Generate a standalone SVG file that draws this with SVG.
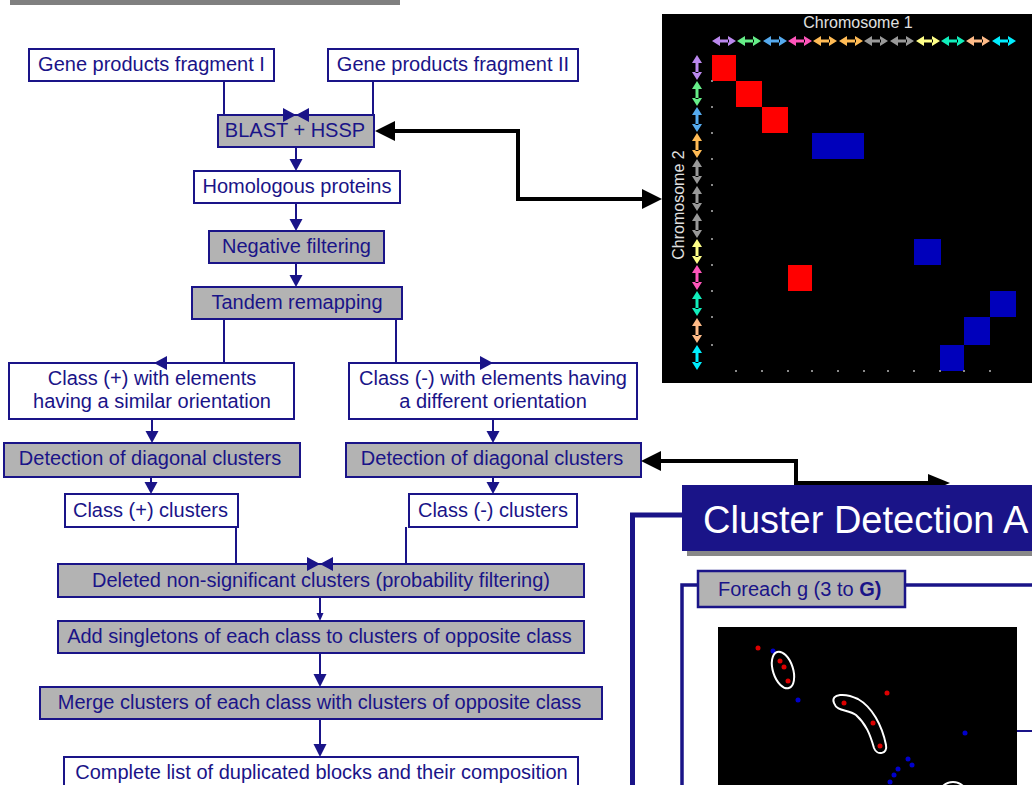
<svg xmlns="http://www.w3.org/2000/svg" xmlns:xlink="http://www.w3.org/1999/xlink" width="1032" height="785" viewBox="0 0 1032 785">
<style>
.box{stroke:#1a1488;stroke-width:2;fill:#fff}
.gr{fill:#b3b3b3}
.t{font-family:"Liberation Sans",Arial,sans-serif;font-size:20px;fill:#1a1488;text-anchor:middle}
.c{stroke:#1a1488;stroke-width:2;fill:none}
.ah{fill:#1a1488}
.bk{stroke:#000;stroke-width:4;fill:none}
.bh{fill:#000}
.dot{fill:#888}
.ch{font-family:"Liberation Sans",Arial,sans-serif;font-size:16px;fill:#e0e0e0;text-anchor:middle}
</style>
<defs>
<path id="hh" d="M0 0 L8 -5 L8 5 Z M24 0 L16 -5 L16 5 Z M7 -1.5 H17 V1.5 H7 Z"/>
<path id="vh" d="M0 0 L-5 8 L5 8 Z M0 25 L-5 17 L5 17 Z M-1.5 7 V18 H1.5 V7 Z"/>
</defs>
<rect width="1032" height="785" fill="#fff"/>
<rect x="10" y="0" width="390" height="5" fill="#808080"/>

<!-- Matrix panel -->
<g id="matrix">
<rect x="662" y="14" width="370" height="369" fill="#000"/>
<text class="ch" x="858" y="28">Chromosome 1</text>
<text class="ch" transform="translate(684,205) rotate(-90)">Chromosome 2</text>
<g>
<use href="#hh" x="712" y="41" fill="#bb88ee"/>
<use href="#hh" x="737" y="41" fill="#66ee88"/>
<use href="#hh" x="763" y="41" fill="#55aaee"/>
<use href="#hh" x="788" y="41" fill="#ff55bb"/>
<use href="#hh" x="813" y="41" fill="#ffbb55"/>
<use href="#hh" x="839" y="41" fill="#ffbb55"/>
<use href="#hh" x="864" y="41" fill="#999999"/>
<use href="#hh" x="890" y="41" fill="#999999"/>
<use href="#hh" x="916" y="41" fill="#ffff88"/>
<use href="#hh" x="941" y="41" fill="#11eebb"/>
<use href="#hh" x="966" y="41" fill="#ffbb88"/>
<use href="#hh" x="992" y="41" fill="#00eeff"/>
</g>
<g>
<use href="#vh" x="697" y="55" fill="#bb88ee"/>
<use href="#vh" x="697" y="81" fill="#66ee88"/>
<use href="#vh" x="697" y="107" fill="#55aaee"/>
<use href="#vh" x="697" y="133" fill="#ffbb55"/>
<use href="#vh" x="697" y="159" fill="#999999"/>
<use href="#vh" x="697" y="186" fill="#999999"/>
<use href="#vh" x="697" y="213" fill="#999999"/>
<use href="#vh" x="697" y="239" fill="#ffff88"/>
<use href="#vh" x="697" y="265" fill="#ff55bb"/>
<use href="#vh" x="697" y="291" fill="#11eebb"/>
<use href="#vh" x="697" y="318" fill="#ffbb88"/>
<use href="#vh" x="697" y="345" fill="#00eeff"/>
</g>
<g fill="#ff0000">
<rect x="712" y="55" width="24" height="26"/>
<rect x="736" y="81" width="26" height="26"/>
<rect x="762" y="107" width="26" height="26"/>
<rect x="788" y="265" width="24" height="26"/>
</g>
<g fill="#0000bb">
<rect x="812" y="133" width="52" height="26"/>
<rect x="914" y="239" width="27" height="26"/>
<rect x="990" y="291" width="26" height="26"/>
<rect x="964" y="317" width="26" height="28"/>
<rect x="940" y="345" width="24" height="26"/>
</g>
<g class="dot">
<rect x="711" y="80" width="2" height="2"/><rect x="711" y="106" width="2" height="2"/>
<rect x="711" y="132" width="2" height="2"/><rect x="711" y="158" width="2" height="2"/>
<rect x="711" y="184" width="2" height="2"/><rect x="711" y="210" width="2" height="2"/>
<rect x="711" y="238" width="2" height="2"/><rect x="711" y="264" width="2" height="2"/>
<rect x="711" y="290" width="2" height="2"/><rect x="711" y="316" width="2" height="2"/>
<rect x="711" y="344" width="2" height="2"/>
<rect x="735" y="370" width="2" height="2"/><rect x="761" y="370" width="2" height="2"/>
<rect x="787" y="370" width="2" height="2"/><rect x="811" y="370" width="2" height="2"/>
<rect x="837" y="370" width="2" height="2"/><rect x="863" y="370" width="2" height="2"/>
<rect x="887" y="370" width="2" height="2"/><rect x="913" y="370" width="2" height="2"/>
<rect x="939" y="370" width="2" height="2"/><rect x="963" y="370" width="2" height="2"/>
<rect x="989" y="370" width="2" height="2"/>
</g>
</g>

<!-- Flowchart nodes -->
<g id="n1"><rect class="box" x="29" y="49" width="245" height="32"/><text class="t" x="151.5" y="71">Gene products fragment I</text></g>
<g id="n2"><rect class="box" x="328" y="49" width="250" height="32"/><text class="t" x="453" y="71">Gene products fragment II</text></g>
<g id="n3"><rect class="box gr" x="218" y="115" width="156" height="32"/><text class="t" x="295" y="137">BLAST + HSSP</text></g>
<g id="n4"><rect class="box" x="194" y="171" width="206" height="32"/><text class="t" x="297" y="193">Homologous proteins</text></g>
<g id="n5"><rect class="box gr" x="209" y="231" width="175" height="32"/><text class="t" x="296.5" y="253">Negative filtering</text></g>
<g id="n6"><rect class="box gr" x="192" y="287" width="210" height="32"/><text class="t" x="297" y="309">Tandem remapping</text></g>
<g id="n7"><rect class="box" x="9" y="363" width="285" height="56"/><text class="t" x="152" y="385">Class (+) with elements</text><text class="t" x="152" y="408">having a similar orientation</text></g>
<g id="n8"><rect class="box" x="349" y="363" width="288" height="56"/><text class="t" x="493" y="385">Class (-) with elements having</text><text class="t" x="493" y="408">a different orientation</text></g>
<g id="n9"><rect class="box gr" x="4" y="443" width="296" height="34"/><text class="t" x="150" y="465">Detection of diagonal clusters</text></g>
<g id="n10"><rect class="box gr" x="346" y="443" width="295" height="34"/><text class="t" x="492" y="465">Detection of diagonal clusters</text></g>
<g id="n11"><rect class="box" x="65" y="494" width="173" height="33"/><text class="t" x="150.5" y="517">Class (+) clusters</text></g>
<g id="n12"><rect class="box" x="409" y="494" width="168" height="33"/><text class="t" x="493" y="517">Class (-) clusters</text></g>
<g id="n13"><rect class="box gr" x="58" y="564" width="526" height="33"/><text class="t" x="321" y="587">Deleted non-significant clusters (probability filtering)</text></g>
<g id="n14"><rect class="box gr" x="58" y="621" width="526" height="32"/><text class="t" x="319.5" y="643">Add singletons of each class to clusters of opposite class</text></g>
<g id="n15"><rect class="box gr" x="40" y="687" width="562" height="32"/><text class="t" x="319.5" y="709">Merge clusters of each class with clusters of opposite class</text></g>
<g id="n16"><rect class="box" x="64" y="757" width="514" height="40"/><text class="t" x="321.5" y="779">Complete list of duplicated blocks and their composition</text></g>

<!-- Connectors -->
<g id="connectors">
<path class="c" d="M224 81 V115 H284"/>
<polygon class="ah" points="283,108 296,115 283,122"/>
<path class="c" d="M373 81 V115 H308"/>
<polygon class="ah" points="309,108 296,115 309,122"/>
<path class="c" d="M296 147 V160"/>
<polygon class="ah" points="289.5,159 302.5,159 296,171"/>
<path class="c" d="M296 203 V220"/>
<polygon class="ah" points="289.5,219 302.5,219 296,231"/>
<path class="c" d="M296 263 V276"/>
<polygon class="ah" points="289.5,275 302.5,275 296,287"/>
<path class="c" d="M224 319 V363 H166"/>
<polygon class="ah" points="167,356 154,363 167,370"/>
<path class="c" d="M396 319 V363 H481"/>
<polygon class="ah" points="480,356 493,363 480,370"/>
<path class="c" d="M152 419 V432"/>
<polygon class="ah" points="145.5,431 158.5,431 152,443"/>
<path class="c" d="M493 419 V432"/>
<polygon class="ah" points="486.5,431 499.5,431 493,443"/>
<path class="c" d="M151 477 V483"/>
<polygon class="ah" points="144.5,482 157.5,482 151,494"/>
<path class="c" d="M493 477 V483"/>
<polygon class="ah" points="486.5,482 499.5,482 493,494"/>
<path class="c" d="M236 527 V564 H308"/>
<polygon class="ah" points="307,557 320,564 307,571"/>
<path class="c" d="M406 527 V564 H333"/>
<polygon class="ah" points="333,557 320,564 333,571"/>
<path class="c" d="M320 597 V614"/>
<polygon class="ah" points="316.5,613 323.5,613 320,621"/>
<path class="c" d="M320 653 V675"/>
<polygon class="ah" points="313.5,674 326.5,674 320,687"/>
<path class="c" d="M320 719 V745"/>
<polygon class="ah" points="313.5,744 326.5,744 320,757"/>
<path class="bk" d="M393 131 H518 V199 H644"/>
<polygon class="bh" points="395,121 375,131 395,141"/>
<polygon class="bh" points="642,189 662,199 642,209"/>
<path class="bk" d="M659 461 H796 V483 H930"/>
<polygon class="bh" points="661,451 641,461 661,471"/>
<polygon class="bh" points="928,474 950,483 928,492"/>
</g>

<!-- Cluster detection section -->
<g id="cluster-frame">
<path d="M682 515 H632.5 V790" fill="none" stroke="#1a1488" stroke-width="5"/>
<path d="M698 585 H682 V790" fill="none" stroke="#1a1488" stroke-width="3.5"/>
<path d="M905 585 H1032" fill="none" stroke="#1a1488" stroke-width="3.5"/>
<path d="M1017 731 H1032" fill="none" stroke="#1a1488" stroke-width="2"/>
</g>
<g id="header">
<rect x="687" y="490" width="360" height="66" fill="#888"/>
<rect x="682" y="485" width="360" height="66" fill="#1a1488"/>
<text x="703" y="533" font-family="Liberation Sans, Arial, sans-serif" font-size="38" fill="#fff">Cluster Detection A</text>
</g>
<g id="foreach">
<rect x="698" y="571" width="207" height="36" fill="#b3b3b3" stroke="#1a1488" stroke-width="2.5"/>
<text x="718" y="596" font-family="Liberation Sans, Arial, sans-serif" font-size="20" fill="#1a1488">Foreach g (3 to <tspan font-weight="bold">G)</tspan></text>
</g>
<g id="scatter">
<rect x="718" y="627" width="299" height="170" fill="#000"/>
<g fill="#dd0000">
<circle cx="758" cy="648" r="2.5"/><circle cx="780" cy="661" r="2.5"/><circle cx="784" cy="667" r="2.5"/>
<circle cx="788" cy="681" r="2.5"/><circle cx="844" cy="703" r="2.5"/><circle cx="873" cy="723" r="2.5"/>
<circle cx="880" cy="746" r="2.5"/><circle cx="887" cy="693" r="2.5"/>
</g>
<g fill="#0000cc">
<circle cx="773" cy="651" r="2.5"/><circle cx="798" cy="700" r="2.5"/><circle cx="908" cy="759" r="2.5"/>
<circle cx="912" cy="765" r="2.5"/><circle cx="898" cy="769" r="2.5"/><circle cx="894" cy="775" r="2.5"/>
<circle cx="890" cy="782" r="2.5"/><circle cx="965" cy="733" r="2.5"/>
</g>
<g fill="none" stroke="#fff" stroke-width="2">
<ellipse cx="783" cy="670" rx="10" ry="19" transform="rotate(-18 783 670)"/>
<path d="M834 703 C830 693 846 693 858 699 C872 707 882 725 886 745 C888 754 877 756 874 748 C870 734 866 724 856 715 C848 709 837 712 834 703 Z"/>
<ellipse cx="953" cy="800" rx="16" ry="18"/>
</g>
</g>
</svg>
